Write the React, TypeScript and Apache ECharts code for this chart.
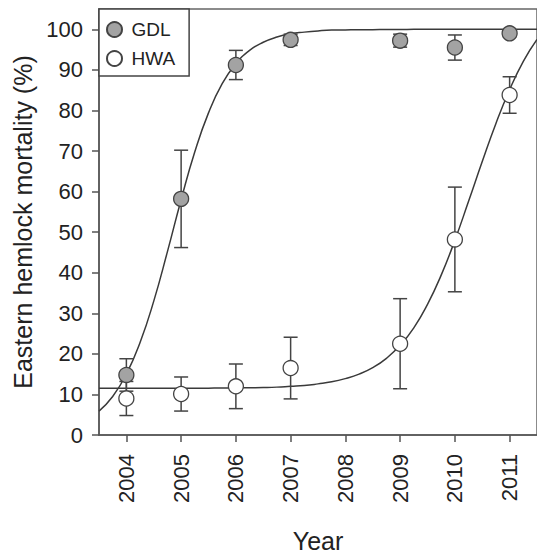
import React, { useEffect, useRef } from "react";
import * as echarts from "echarts";

const FONT = "'Liberation Sans', Arial, Helvetica, sans-serif";

// Observation years
const years = [2004, 2005, 2006, 2007, 2009, 2010, 2011];
// Mean mortality (%) and standard errors
const gdlMean = [14.8, 58.2, 91.2, 97.4, 97.2, 95.5, 99.0];
const gdlErr = [4.0, 12.0, 3.6, 1.4, 1.6, 3.1, 0.8];
const hwaMean = [9.0, 10.1, 12.0, 16.5, 22.5, 48.2, 83.8];
const hwaErr = [4.2, 4.2, 5.5, 7.6, 11.1, 12.9, 4.5];

// Fitted curves
const curveYears = [
  2003.5, 2003.75, 2004, 2004.25, 2004.5, 2004.75, 2005, 2005.25, 2005.5, 2005.75,
  2006, 2006.25, 2006.5, 2006.75, 2007, 2007.25, 2007.5, 2007.75, 2008, 2008.25,
  2008.5, 2008.75, 2009, 2009.25, 2009.5, 2009.75, 2010, 2010.25, 2010.5, 2010.75,
  2011, 2011.25, 2011.5,
];
const gdlCurve = [
  5.9, 9.5, 15.0, 22.8, 33.0, 45.2, 58.0, 69.8, 79.4, 86.6,
  91.5, 94.8, 96.8, 98.1, 98.9, 99.3, 99.6, 99.8, 99.85, 99.9,
  99.9, 99.95, 99.95, 100, 100, 100, 100, 100, 100, 100,
  100, 100, 100,
];
const hwaCurve = [
  11.5, 11.5, 11.5, 11.5, 11.5, 11.5, 11.5, 11.5, 11.55, 11.6,
  11.6, 11.65, 11.7, 11.8, 12.0, 12.2, 12.6, 13.1, 13.9, 15.0,
  16.6, 18.9, 22.1, 26.4, 32.2, 39.4, 48.0, 57.6, 67.4, 76.8,
  85.1, 92.1, 97.5,
];

const xTicks = [2004, 2005, 2006, 2007, 2008, 2009, 2010, 2011];

export default function App() {
  const ref = useRef<HTMLDivElement>(null);

  useEffect(() => {
    if (!ref.current) return;
    const chart = echarts.init(ref.current, undefined, { renderer: "svg" });

    const errData = (mean: number[], err: number[]) =>
      years.map((y, i) => [y, mean[i] - err[i], mean[i] + err[i]]);

    const renderErr = (params: any, api: any) => {
      const x = api.value(0);
      const lo = api.value(1);
      const hi = api.value(2);
      const top = api.coord([x, hi]);
      const bot = api.coord([x, lo]);
      const half = 7;
      const style = { stroke: "#444", lineWidth: 1.5, fill: "none" };
      return {
        type: "group",
        children: [
          { type: "line", shape: { x1: top[0], y1: top[1], x2: bot[0], y2: bot[1] }, style },
          { type: "line", shape: { x1: top[0] - half, y1: top[1], x2: top[0] + half, y2: top[1] }, style },
          { type: "line", shape: { x1: bot[0] - half, y1: bot[1], x2: bot[0] + half, y2: bot[1] }, style },
        ],
      };
    };

    const option: any = {
      animation: false,
      backgroundColor: "#fff",
      textStyle: { fontFamily: FONT },
      grid: {
        left: 99,
        top: 9,
        width: 439,
        height: 437,
        show: true,
        borderColor: "#666",
        borderWidth: 1.5,
        backgroundColor: "transparent",
      },
      legend: {
        orient: "vertical",
        left: 99,
        top: 9,
        padding: [11, 14, 8, 7],
        itemGap: 10,
        itemWidth: 24,
        itemHeight: 15,
        borderColor: "#444",
        borderWidth: 1.5,
        borderRadius: 0,
        backgroundColor: "#fff",
        textStyle: { fontSize: 19, color: "#222", fontFamily: FONT },
        data: ["GDL", "HWA"],
      },
      xAxis: {
        type: "value",
        min: 2003.5,
        max: 2011.5,
        name: "Year",
        nameLocation: "middle",
        nameGap: 93,
        nameTextStyle: { fontSize: 25, color: "#222", fontFamily: FONT },
        axisLine: { show: true, lineStyle: { color: "#555", width: 1.5 } },
        axisTick: {
          show: true,
          inside: false,
          length: 7,
          customValues: xTicks,
          lineStyle: { color: "#555", width: 1.5 },
        },
        axisLabel: {
          rotate: 90,
          margin: 19,
          fontSize: 22,
          color: "#222",
          fontFamily: FONT,
          customValues: xTicks,
          formatter: (v: number) => String(v),
        },
        splitLine: { show: false },
      },
      yAxis: {
        type: "value",
        min: 0,
        max: 105,
        interval: 10,
        name: "Eastern hemlock mortality (%)",
        nameLocation: "middle",
        nameGap: 64,
        nameTextStyle: { fontSize: 25, color: "#222", fontFamily: FONT },
        axisLine: { show: true, lineStyle: { color: "#555", width: 1.5 } },
        axisTick: { show: true, inside: false, length: 7, lineStyle: { color: "#555", width: 1.5 } },
        axisLabel: {
          margin: 16,
          fontSize: 22,
          color: "#222",
          fontFamily: FONT,
          showMaxLabel: false,
        },
        splitLine: { show: false },
      },
      series: [
        {
          name: "GDL fit",
          type: "line",
          data: curveYears.map((x, i) => [x, gdlCurve[i]]),
          showSymbol: false,
          smooth: 0.5,
          lineStyle: { color: "#3a3a3a", width: 1.5 },
          z: 1,
          silent: true,
        },
        {
          name: "HWA fit",
          type: "line",
          data: curveYears.map((x, i) => [x, hwaCurve[i]]),
          showSymbol: false,
          smooth: 0.5,
          lineStyle: { color: "#3a3a3a", width: 1.5 },
          z: 1,
          silent: true,
        },
        {
          name: "GDL err",
          type: "custom",
          data: errData(gdlMean, gdlErr),
          encode: { x: 0, y: [1, 2] },
          renderItem: renderErr,
          z: 2,
          silent: true,
        },
        {
          name: "HWA err",
          type: "custom",
          data: errData(hwaMean, hwaErr),
          encode: { x: 0, y: [1, 2] },
          renderItem: renderErr,
          z: 2,
          silent: true,
        },
        {
          name: "GDL",
          type: "scatter",
          data: years.map((y, i) => [y, gdlMean[i]]),
          symbol: "circle",
          symbolSize: 15,
          itemStyle: { color: "#a3a3a3", borderColor: "#444", borderWidth: 1.3, opacity: 1 },
          z: 3,
        },
        {
          name: "HWA",
          type: "scatter",
          data: years.map((y, i) => [y, hwaMean[i]]),
          symbol: "circle",
          symbolSize: 15,
          itemStyle: { color: "#ffffff", borderColor: "#444", borderWidth: 1.3, opacity: 1 },
          z: 3,
        },
      ],
    };

    chart.setOption(option);
    return () => chart.dispose();
  }, []);

  return (
    <div
      ref={ref}
      style={{ position: "fixed", left: 0, top: 0, width: 537, height: 558 }}
    />
  );
}
